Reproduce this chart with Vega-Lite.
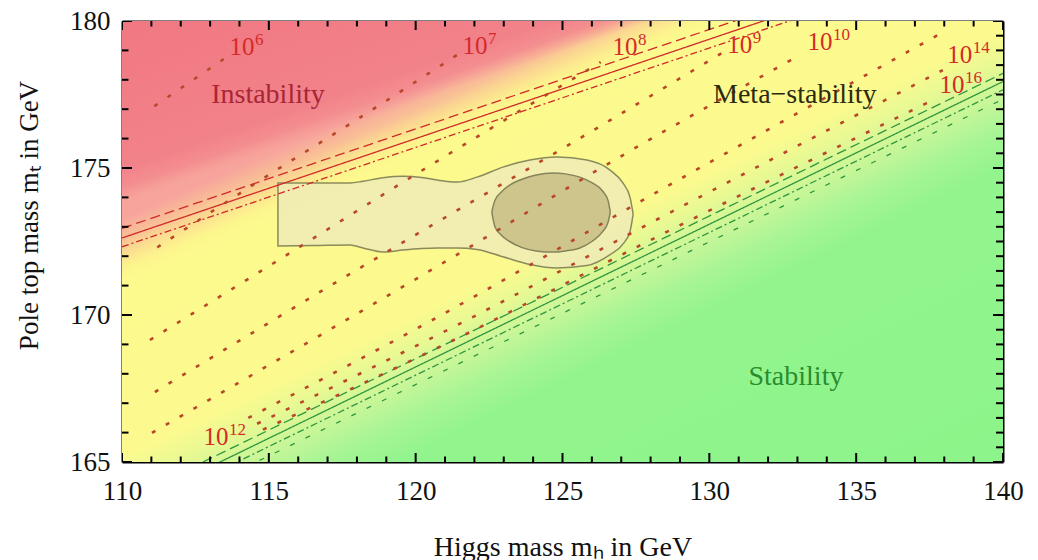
{
  "$schema": "https://vega.github.io/schema/vega-lite/v6.json",
  "width": 881,
  "height": 441,
  "autosize": {"type": "none"},
  "padding": {"left": 122, "top": 21, "right": 35, "bottom": 98},
  "background": "white",
  "config": {
    "view": {"stroke": null},
    "font": "Liberation Serif",
    "axis": {
      "labelFont": "Liberation Serif",
      "labelFontSize": 27,
      "labelColor": "#111111",
      "titleFont": "Liberation Serif",
      "titleFontSize": 28,
      "titleFontWeight": "normal",
      "titleColor": "#111111",
      "domainColor": "#000000",
      "domainWidth": 2,
      "ticks": false,
      "grid": false,
      "labelFlush": false,
      "labelOverlap": false
    }
  },
  "datasets": {
    "frame": [{"x": 110, "x2": 140, "y": 165, "y2": 180}],
    "xticks": [
      {"v": 110, "kind": "major"}, {"v": 111, "kind": "minor"}, {"v": 112, "kind": "minor"}, {"v": 113, "kind": "minor"}, {"v": 114, "kind": "minor"},
      {"v": 115, "kind": "major"}, {"v": 116, "kind": "minor"}, {"v": 117, "kind": "minor"}, {"v": 118, "kind": "minor"}, {"v": 119, "kind": "minor"},
      {"v": 120, "kind": "major"}, {"v": 121, "kind": "minor"}, {"v": 122, "kind": "minor"}, {"v": 123, "kind": "minor"}, {"v": 124, "kind": "minor"},
      {"v": 125, "kind": "major"}, {"v": 126, "kind": "minor"}, {"v": 127, "kind": "minor"}, {"v": 128, "kind": "minor"}, {"v": 129, "kind": "minor"},
      {"v": 130, "kind": "major"}, {"v": 131, "kind": "minor"}, {"v": 132, "kind": "minor"}, {"v": 133, "kind": "minor"}, {"v": 134, "kind": "minor"},
      {"v": 135, "kind": "major"}, {"v": 136, "kind": "minor"}, {"v": 137, "kind": "minor"}, {"v": 138, "kind": "minor"}, {"v": 139, "kind": "minor"},
      {"v": 140, "kind": "major"}
    ],
    "yticks": [
      {"v": 165, "kind": "major"}, {"v": 166, "kind": "minor"}, {"v": 167, "kind": "minor"}, {"v": 168, "kind": "minor"}, {"v": 169, "kind": "minor"},
      {"v": 170, "kind": "major"}, {"v": 171, "kind": "minor"}, {"v": 172, "kind": "minor"}, {"v": 173, "kind": "minor"}, {"v": 174, "kind": "minor"},
      {"v": 175, "kind": "major"}, {"v": 176, "kind": "minor"}, {"v": 177, "kind": "minor"}, {"v": 178, "kind": "minor"}, {"v": 179, "kind": "minor"},
      {"v": 180, "kind": "major"}
    ],
    "yticksRight": [
      {"v": 165, "kind": "major"}, {"v": 165.5, "kind": "minor"}, {"v": 166, "kind": "minor"}, {"v": 166.5, "kind": "minor"}, {"v": 167, "kind": "minor"}, {"v": 167.5, "kind": "minor"},
      {"v": 168, "kind": "minor"}, {"v": 168.5, "kind": "minor"}, {"v": 169, "kind": "minor"}, {"v": 169.5, "kind": "minor"}, {"v": 170, "kind": "major"}, {"v": 170.5, "kind": "minor"},
      {"v": 171, "kind": "minor"}, {"v": 171.5, "kind": "minor"}, {"v": 172, "kind": "minor"}, {"v": 172.5, "kind": "minor"}, {"v": 173, "kind": "minor"}, {"v": 173.5, "kind": "minor"},
      {"v": 174, "kind": "minor"}, {"v": 174.5, "kind": "minor"}, {"v": 175, "kind": "major"}, {"v": 175.5, "kind": "minor"}, {"v": 176, "kind": "minor"}, {"v": 176.5, "kind": "minor"},
      {"v": 177, "kind": "minor"}, {"v": 177.5, "kind": "minor"}, {"v": 178, "kind": "minor"}, {"v": 178.5, "kind": "minor"}, {"v": 179, "kind": "minor"}, {"v": 179.5, "kind": "minor"},
      {"v": 180, "kind": "major"}
    ],
    "outer": [
      {"x": 115.31, "y": 174.49, "y2": 172.35},
      {"x": 116.5, "y": 174.49, "y2": 172.36},
      {"x": 117.76, "y": 174.49, "y2": 172.38},
      {"x": 118.21, "y": 174.55, "y2": 172.28},
      {"x": 118.89, "y": 174.67, "y2": 172.14},
      {"x": 119.57, "y": 174.72, "y2": 172.21},
      {"x": 120.2, "y": 174.68, "y2": 172.26},
      {"x": 120.73, "y": 174.59, "y2": 172.28},
      {"x": 121.41, "y": 174.52, "y2": 172.28},
      {"x": 122.09, "y": 174.69, "y2": 172.23},
      {"x": 122.97, "y": 175.03, "y2": 171.98},
      {"x": 123.89, "y": 175.27, "y2": 171.72},
      {"x": 124.81, "y": 175.37, "y2": 171.6},
      {"x": 125.83, "y": 175.27, "y2": 171.68},
      {"x": 126.62, "y": 174.93, "y2": 172.05},
      {"x": 127.05, "y": 174.5, "y2": 172.4},
      {"x": 127.3, "y": 174.0, "y2": 172.85},
      {"x": 127.4, "y": 173.47, "y2": 173.4}
    ],
    "inner": [
      {"x": 122.6, "y": 173.55, "y2": 173.45},
      {"x": 122.7, "y": 173.9, "y2": 173.0},
      {"x": 122.9, "y": 174.17, "y2": 172.73},
      {"x": 123.2, "y": 174.42, "y2": 172.5},
      {"x": 123.6, "y": 174.61, "y2": 172.3},
      {"x": 124.1, "y": 174.76, "y2": 172.18},
      {"x": 124.67, "y": 174.83, "y2": 172.14},
      {"x": 125.1, "y": 174.8, "y2": 172.18},
      {"x": 125.59, "y": 174.69, "y2": 172.28},
      {"x": 126.0, "y": 174.5, "y2": 172.5},
      {"x": 126.38, "y": 174.2, "y2": 172.85},
      {"x": 126.55, "y": 173.9, "y2": 173.15},
      {"x": 126.62, "y": 173.55, "y2": 173.45}
    ],
    "bands": [
      {"bound": "instability", "band": "central", "x": 110, "y": 172.62},
      {"bound": "instability", "band": "central", "x": 140, "y": 182.76},
      {"bound": "instability", "band": "upper", "x": 110, "y": 172.95},
      {"bound": "instability", "band": "upper", "x": 140, "y": 183.09},
      {"bound": "instability", "band": "lower", "x": 110, "y": 172.32},
      {"bound": "instability", "band": "lower", "x": 140, "y": 182.46},
      {"bound": "stability", "band": "central", "x": 110, "y": 163.38},
      {"bound": "stability", "band": "central", "x": 140, "y": 177.94},
      {"bound": "stability", "band": "upper", "x": 110, "y": 163.66},
      {"bound": "stability", "band": "upper", "x": 140, "y": 178.22},
      {"bound": "stability", "band": "lower", "x": 110, "y": 163.1},
      {"bound": "stability", "band": "lower", "x": 140, "y": 177.66},
      {"bound": "stability", "band": "outer", "x": 110, "y": 162.78},
      {"bound": "stability", "band": "outer", "x": 140, "y": 177.34}
    ],
    "lambda": [
      {"lam": "1e6", "x": 111.1, "y": 177.1},
      {"lam": "1e6", "x": 113.6, "y": 178.8},
      {"lam": "1e7", "x": 111.2, "y": 172.3},
      {"lam": "1e7", "x": 114.5, "y": 174.45},
      {"lam": "1e7", "x": 118.0, "y": 176.65},
      {"lam": "1e7", "x": 121.4, "y": 178.84},
      {"lam": "1e8", "x": 110.95, "y": 169.15},
      {"lam": "1e8", "x": 115.3, "y": 171.85},
      {"lam": "1e8", "x": 119.8, "y": 174.66},
      {"lam": "1e8", "x": 126.3, "y": 178.6},
      {"lam": "1e9", "x": 111.12, "y": 167.38},
      {"lam": "1e9", "x": 119.53, "y": 172.45},
      {"lam": "1e9", "x": 125.49, "y": 175.95},
      {"lam": "1e9", "x": 130.43, "y": 178.91},
      {"lam": "1e10", "x": 111.02, "y": 165.99},
      {"lam": "1e10", "x": 121.1, "y": 171.87},
      {"lam": "1e10", "x": 126.89, "y": 175.34},
      {"lam": "1e10", "x": 133.08, "y": 178.84},
      {"lam": "1e12", "x": 114.3, "y": 166.5},
      {"lam": "1e12", "x": 120.0, "y": 169.52},
      {"lam": "1e12", "x": 129.24, "y": 174.76},
      {"lam": "1e12", "x": 137.78, "y": 179.52},
      {"lam": "1e14", "x": 114.6, "y": 166.3},
      {"lam": "1e14", "x": 121.3, "y": 169.6},
      {"lam": "1e14", "x": 129.0, "y": 173.66},
      {"lam": "1e14", "x": 137.95, "y": 178.33},
      {"lam": "1e16", "x": 114.8, "y": 166.1},
      {"lam": "1e16", "x": 121.3, "y": 169.15},
      {"lam": "1e16", "x": 128.0, "y": 172.55},
      {"lam": "1e16", "x": 137.75, "y": 177.38}
    ],
    "labels": [
      {"base": "10", "exp": "6", "x": 114.09, "y": 178.84},
      {"base": "10", "exp": "7", "x": 122.02, "y": 178.88},
      {"base": "10", "exp": "8", "x": 127.13, "y": 178.84},
      {"base": "10", "exp": "9", "x": 131.04, "y": 178.91},
      {"base": "10", "exp": "10", "x": 133.77, "y": 179.01},
      {"base": "10", "exp": "14", "x": 138.53, "y": 178.58},
      {"base": "10", "exp": "16", "x": 138.26, "y": 177.56},
      {"base": "10", "exp": "12", "x": 113.2, "y": 165.58}
    ],
    "regions": [
      {"name": "Instability", "region": "instability", "x": 114.97, "y": 177.21},
      {"name": "Meta−stability", "region": "metastability", "x": 132.91, "y": 177.21},
      {"name": "Stability", "region": "stability", "x": 132.95, "y": 167.62}
    ]
  },
  "layer": [
    {
      "data": {"name": "frame"},
      "mark": {
        "type": "rect",
        "strokeWidth": 0,
        "fill": {
          "gradient": "linear",
          "x1": 0, "y1": 0, "x2": 0.985, "y2": 1.015,
          "stops": [
            {"offset": 0, "color": "#fdf98d"},
            {"offset": 0.5, "color": "#fcfa8e"},
            {"offset": 0.535, "color": "#eaf993"},
            {"offset": 0.575, "color": "#c9f698"},
            {"offset": 0.615, "color": "#a9f596"},
            {"offset": 0.66, "color": "#93f48e"},
            {"offset": 1, "color": "#8cf48a"}
          ]
        }
      },
      "encoding": {
        "x": {
          "field": "x", "type": "quantitative",
          "scale": {"domain": [110, 140], "nice": false, "zero": false},
          "axis": {
            "orient": "bottom",
            "values": [110, 115, 120, 125, 130, 135, 140],
            "labelPadding": 16,
            "title": "Higgs mass mₕ in GeV",
            "titleY": 93,
            "titleBaseline": "alphabetic"
          }
        },
        "x2": {"field": "x2"},
        "y": {
          "field": "y", "type": "quantitative",
          "scale": {"domain": [165, 180], "nice": false, "zero": false},
          "axis": {
            "orient": "left",
            "values": [165, 170, 175, 180],
            "labelPadding": 12,
            "title": "Pole top mass mₜ in GeV",
            "titleFontSize": 27,
            "titleX": -85,
            "titleY": 194,
            "titleAngle": -90,
            "titleBaseline": "alphabetic",
            "titleAlign": "center"
          }
        },
        "y2": {"field": "y2"}
      }
    },
    {
      "data": {"name": "frame"},
      "mark": {
        "type": "rect",
        "strokeWidth": 0,
        "fill": {
          "gradient": "linear",
          "x1": 0, "y1": 0, "x2": 0.9274, "y2": 1.0636,
          "stops": [
            {"offset": 0, "color": "rgba(246,158,154,1)"},
            {"offset": 0.24, "color": "rgba(247,165,156,1)"},
            {"offset": 0.265, "color": "rgba(249,190,150,0.95)"},
            {"offset": 0.285, "color": "rgba(251,214,145,0.7)"},
            {"offset": 0.305, "color": "rgba(253,238,142,0.3)"},
            {"offset": 0.322, "color": "rgba(253,248,142,0)"},
            {"offset": 1, "color": "rgba(253,250,142,0)"}
          ]
        }
      },
      "encoding": {
        "x": {
          "field": "x", "type": "quantitative",
          "scale": {"domain": [110, 140], "nice": false, "zero": false},
          "axis": {"orient": "top", "values": [110, 140], "labels": false, "title": null}
        },
        "x2": {"field": "x2"},
        "y": {
          "field": "y", "type": "quantitative",
          "scale": {"domain": [165, 180], "nice": false, "zero": false},
          "axis": {"orient": "right", "values": [165, 180], "labels": false, "title": null}
        },
        "y2": {"field": "y2"}
      }
    },
    {
      "data": {"name": "frame"},
      "mark": {
        "type": "rect",
        "strokeWidth": 0,
        "fill": {
          "gradient": "linear",
          "x1": 0, "y1": 0, "x2": 0.79, "y2": 1.1449,
          "stops": [
            {"offset": 0, "color": "rgba(241,120,131,1)"},
            {"offset": 0.2, "color": "rgba(242,130,138,1)"},
            {"offset": 0.224, "color": "rgba(243,138,142,0.85)"},
            {"offset": 0.245, "color": "rgba(245,150,148,0)"},
            {"offset": 1, "color": "rgba(245,150,148,0)"}
          ]
        }
      },
      "encoding": {
        "x": {"field": "x", "type": "quantitative", "scale": {"domain": [110, 140], "nice": false, "zero": false}, "axis": null},
        "x2": {"field": "x2"},
        "y": {"field": "y", "type": "quantitative", "scale": {"domain": [165, 180], "nice": false, "zero": false}, "axis": null},
        "y2": {"field": "y2"}
      }
    },
    {
      "data": {"name": "outer"},
      "mark": {"type": "area", "clip": true, "interpolate": "monotone", "fill": "#efebb6", "fillOpacity": 0.85, "stroke": "#8a8a5c", "strokeWidth": 1.5},
      "encoding": {
        "x": {"field": "x", "type": "quantitative", "scale": {"domain": [110, 140], "nice": false, "zero": false}, "axis": null},
        "y": {"field": "y", "type": "quantitative", "scale": {"domain": [165, 180], "nice": false, "zero": false}, "axis": null},
        "y2": {"field": "y2"}
      }
    },
    {
      "data": {"name": "inner"},
      "mark": {"type": "area", "clip": true, "interpolate": "monotone", "fill": "#c9c088", "fillOpacity": 0.9, "stroke": "#85845a", "strokeWidth": 1.5},
      "encoding": {
        "x": {"field": "x", "type": "quantitative", "scale": {"domain": [110, 140], "nice": false, "zero": false}, "axis": null},
        "y": {"field": "y", "type": "quantitative", "scale": {"domain": [165, 180], "nice": false, "zero": false}, "axis": null},
        "y2": {"field": "y2"}
      }
    },
    {
      "data": {"name": "bands"},
      "mark": {"type": "line", "clip": true, "strokeWidth": 1.3},
      "encoding": {
        "x": {"field": "x", "type": "quantitative", "scale": {"domain": [110, 140], "nice": false, "zero": false}, "axis": null},
        "y": {"field": "y", "type": "quantitative", "scale": {"domain": [165, 180], "nice": false, "zero": false}, "axis": null},
        "color": {"field": "bound", "type": "nominal", "scale": {"domain": ["instability", "stability"], "range": ["#cf2a2a", "#2f9640"]}, "legend": null},
        "strokeDash": {"field": "band", "type": "nominal", "scale": {"domain": ["central", "upper", "lower", "outer"], "range": [[1, 0], [10, 5], [7, 3, 2, 3], [5, 12]]}, "legend": null}
      }
    },
    {
      "data": {"name": "lambda"},
      "mark": {"type": "line", "clip": true, "interpolate": "monotone", "strokeWidth": 2.6, "strokeDash": [4, 12], "color": "#b9482a"},
      "encoding": {
        "x": {"field": "x", "type": "quantitative", "scale": {"domain": [110, 140], "nice": false, "zero": false}, "axis": null},
        "y": {"field": "y", "type": "quantitative", "scale": {"domain": [165, 180], "nice": false, "zero": false}, "axis": null},
        "detail": {"field": "lam", "type": "nominal"}
      }
    },
    {
      "data": {"name": "labels"},
      "mark": {"type": "text", "font": "Liberation Serif", "fontSize": 25, "color": "#d42a2a", "align": "center", "baseline": "alphabetic"},
      "encoding": {
        "x": {"field": "x", "type": "quantitative", "scale": {"domain": [110, 140], "nice": false, "zero": false}, "axis": null},
        "y": {"field": "y", "type": "quantitative", "scale": {"domain": [165, 180], "nice": false, "zero": false}, "axis": null},
        "text": {"field": "base", "type": "nominal"}
      }
    },
    {
      "data": {"name": "labels"},
      "mark": {"type": "text", "font": "Liberation Serif", "fontSize": 17, "color": "#d42a2a", "align": "left", "baseline": "alphabetic", "dx": 13, "dy": -10},
      "encoding": {
        "x": {"field": "x", "type": "quantitative", "scale": {"domain": [110, 140], "nice": false, "zero": false}, "axis": null},
        "y": {"field": "y", "type": "quantitative", "scale": {"domain": [165, 180], "nice": false, "zero": false}, "axis": null},
        "text": {"field": "exp", "type": "nominal"}
      }
    },
    {
      "data": {"name": "regions"},
      "mark": {"type": "text", "font": "Liberation Serif", "fontSize": 28, "align": "center", "baseline": "alphabetic"},
      "encoding": {
        "x": {"field": "x", "type": "quantitative", "scale": {"domain": [110, 140], "nice": false, "zero": false}, "axis": null},
        "y": {"field": "y", "type": "quantitative", "scale": {"domain": [165, 180], "nice": false, "zero": false}, "axis": null},
        "text": {"field": "name", "type": "nominal"},
        "color": {"field": "region", "type": "nominal", "scale": {"domain": ["instability", "metastability", "stability"], "range": ["#a82636", "#2a2a12", "#2a8c30"]}, "legend": null}
      }
    },
    {
      "data": {"name": "xticks"},
      "mark": {"type": "tick", "clip": true, "orient": "vertical", "color": "#000000", "thickness": 2, "opacity": 1},
      "encoding": {
        "x": {"field": "v", "type": "quantitative", "scale": {"domain": [110, 140], "nice": false, "zero": false}, "axis": null},
        "y": {"datum": 165, "type": "quantitative", "scale": {"domain": [165, 180], "nice": false, "zero": false}, "axis": null},
        "size": {"field": "kind", "type": "nominal", "scale": {"domain": ["major", "minor"], "range": [18, 11]}, "legend": null}
      }
    },
    {
      "data": {"name": "xticks"},
      "mark": {"type": "tick", "clip": true, "orient": "vertical", "color": "#000000", "thickness": 2, "opacity": 1},
      "encoding": {
        "x": {"field": "v", "type": "quantitative", "scale": {"domain": [110, 140], "nice": false, "zero": false}, "axis": null},
        "y": {"datum": 180, "type": "quantitative", "scale": {"domain": [165, 180], "nice": false, "zero": false}, "axis": null},
        "size": {"field": "kind", "type": "nominal", "scale": {"domain": ["major", "minor"], "range": [18, 11]}, "legend": null}
      }
    },
    {
      "data": {"name": "yticks"},
      "mark": {"type": "tick", "clip": true, "orient": "horizontal", "color": "#000000", "thickness": 2, "opacity": 1},
      "encoding": {
        "y": {"field": "v", "type": "quantitative", "scale": {"domain": [165, 180], "nice": false, "zero": false}, "axis": null},
        "x": {"datum": 110, "type": "quantitative", "scale": {"domain": [110, 140], "nice": false, "zero": false}, "axis": null},
        "size": {"field": "kind", "type": "nominal", "scale": {"domain": ["major", "minor"], "range": [20, 13]}, "legend": null}
      }
    },
    {
      "data": {"name": "yticksRight"},
      "mark": {"type": "tick", "clip": true, "orient": "horizontal", "color": "#000000", "thickness": 2, "opacity": 1},
      "encoding": {
        "y": {"field": "v", "type": "quantitative", "scale": {"domain": [165, 180], "nice": false, "zero": false}, "axis": null},
        "x": {"datum": 140, "type": "quantitative", "scale": {"domain": [110, 140], "nice": false, "zero": false}, "axis": null},
        "size": {"field": "kind", "type": "nominal", "scale": {"domain": ["major", "minor"], "range": [20, 14]}, "legend": null}
      }
    }
  ],
  "resolve": {"axis": {"x": "independent", "y": "independent"}, "scale": {"color": "independent", "size": "independent"}}
}
